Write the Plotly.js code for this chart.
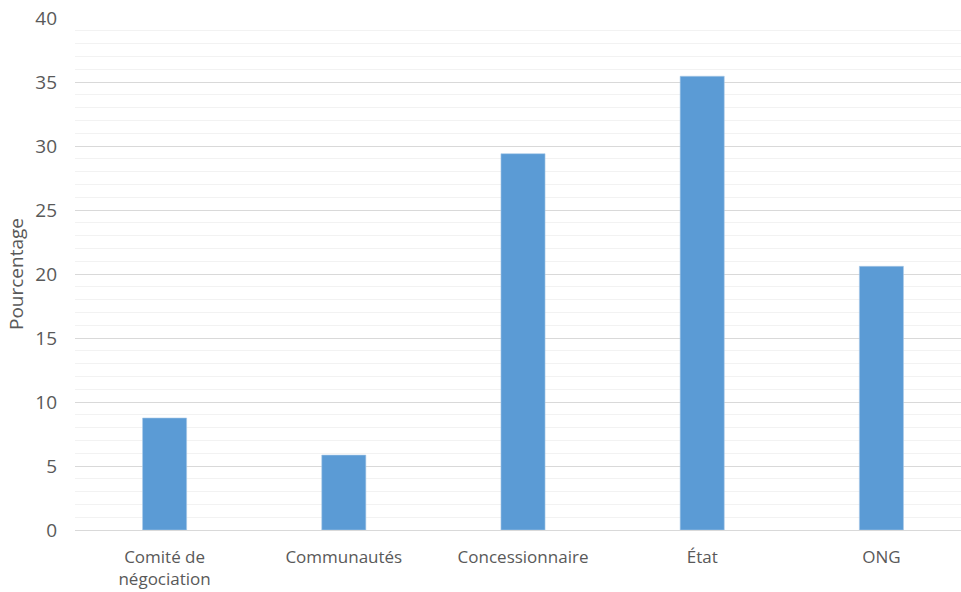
<!DOCTYPE html>
<html>
<head>
<meta charset="utf-8">
<script src="https://cdn.plot.ly/plotly-3.0.1.min.js"></script>
<style>
  html, body { margin: 0; padding: 0; background: #fff; overflow: hidden; }
  #chart { width: 972px; height: 592px; }
</style>
</head>
<body>
<div id="chart"></div>
<script>
// Répartition par acteur (en %)
const categories = ['Comité de<br>négociation', 'Communautés', 'Concessionnaire', 'État', 'ONG'];
const pourcentages = [8.75, 5.85, 29.4, 35.45, 20.6];

const yTickVals = [0, 5, 10, 15, 20, 25, 30, 35, 40];

const textColor = '#595959';
const fontFamily = 'Open Sans, Liberation Sans, Arial, sans-serif';

const trace = {
  type: 'bar',
  x: categories,
  y: pourcentages,
  marker: { color: '#5b9bd5', line: { color: '#a9c9e8', width: 0.6 } },
  hoverinfo: 'x+y'
};

const layout = {
  width: 972,
  height: 592,
  margin: { l: 75, r: 1, t: 18, b: 62 },
  paper_bgcolor: '#ffffff',
  plot_bgcolor: '#ffffff',
  showlegend: false,
  bargap: 0.754,
  font: { family: fontFamily, color: textColor, size: 15 },
  xaxis: {
    type: 'category',
    showgrid: false,
    showline: false,
    zeroline: false,
    ticks: '',
    ticklabelstandoff: 15,
    tickfont: { size: 17, color: textColor, family: fontFamily },
    automargin: false
  },
  yaxis: {
    range: [0, 40],
    tickvals: yTickVals,
    ticktext: yTickVals.map(String),
    showgrid: true,
    gridcolor: '#d9d9d9',
    gridwidth: 1,
    zeroline: true,
    zerolinecolor: '#d9d9d9',
    zerolinewidth: 1,
    showline: false,
    ticks: '',
    ticklabelstandoff: 17,
    tickfont: { size: 19, color: textColor, family: fontFamily },
    minor: { dtick: 1, showgrid: true, gridcolor: '#f2f2f2', gridwidth: 1, ticks: '' },
    title: { text: 'Pourcentage', font: { size: 19, color: textColor, family: fontFamily }, standoff: 6 },
    automargin: false
  }
};

Plotly.newPlot('chart', [trace], layout, { displayModeBar: false, staticPlot: true });
</script>
</body>
</html>
